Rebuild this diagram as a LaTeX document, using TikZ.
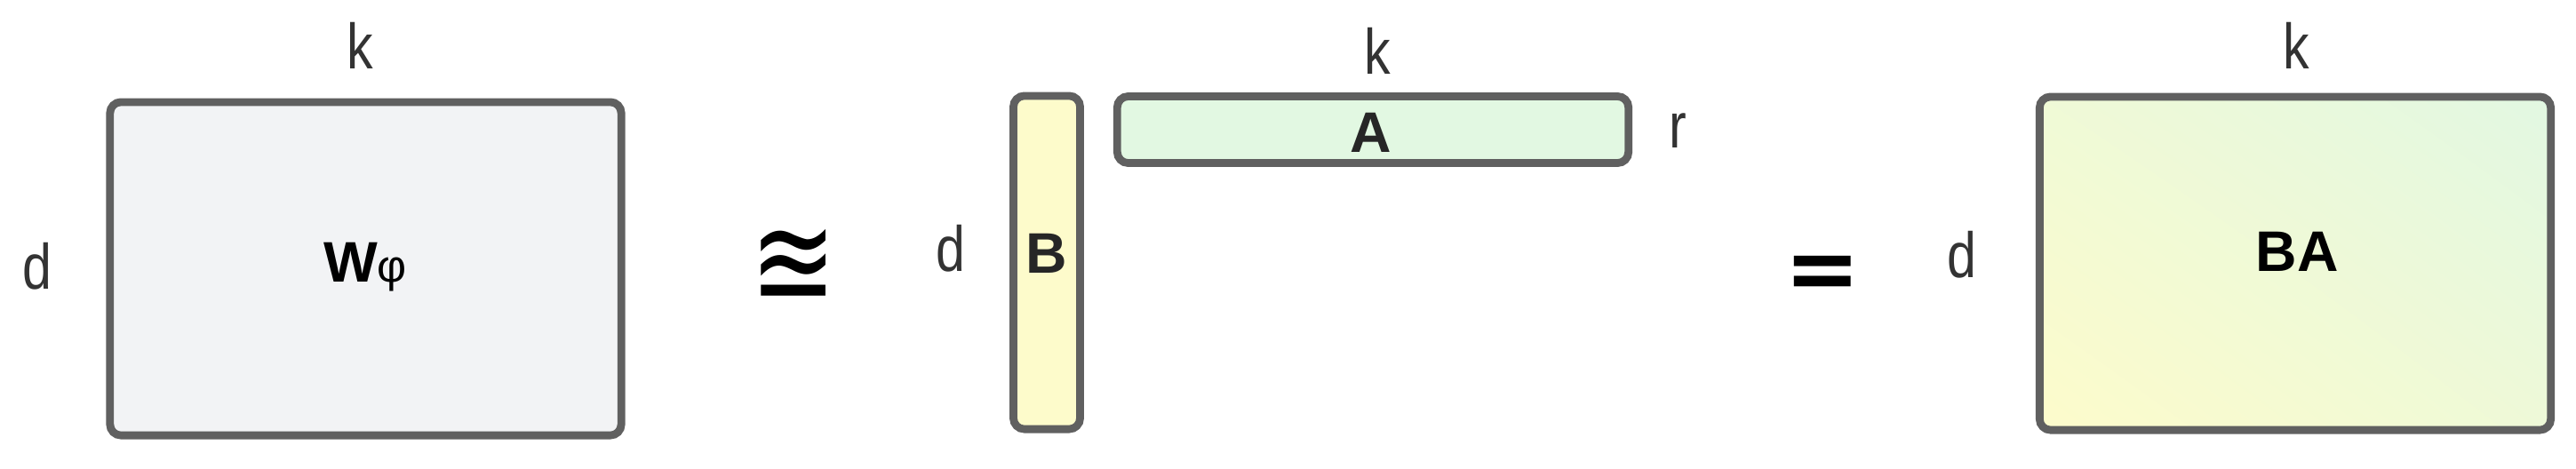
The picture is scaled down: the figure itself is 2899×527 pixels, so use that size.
\documentclass[tikz,border=0pt]{standalone}
\usepackage{graphicx}
\usepackage{fontspec}
\setmainfont{Liberation Sans}
\newfontfamily\dimfont{Liberation Sans}[FakeStretch=0.82]
\newfontfamily\opfont{DejaVu Sans}
\usepackage{tikz}
\usetikzlibrary{shadings}
\definecolor{mxedge}{HTML}{606060}
\definecolor{mxgray}{HTML}{F2F3F5}
\definecolor{mxyellow}{HTML}{FDFBCB}
\definecolor{mxgreen}{HTML}{E2F8E2}
\definecolor{dimtext}{HTML}{333333}

\begin{document}
\begin{tikzpicture}[x=0.01cm, y=-0.01cm]
  % one unit is one pixel of the 2899 x 527 figure, y runs downwards.
  % \mtK/\mtD are the drawn sizes of a k-wide, d-tall matrix, \mtR the rank.
  \def\mtK{5.75cm} \def\mtD{3.75cm} \def\mtR{0.75cm}
  \tikzset{
    matbox/.style={draw=mxedge, line width=2.5pt, rounded corners=3.5pt,
      inner sep=0pt},
    dimlbl/.style={anchor=base, inner sep=0pt, text=dimtext,
      font=\dimfont\fontsize{20.5}{24}\selectfont},
    matlbl/.style={anchor=base, inner sep=0pt,
      font=\bfseries\fontsize{18.3}{22}\selectfont},
    opsym/.style={anchor=base, inner sep=0pt,
      font=\opfont\fontsize{33}{36}\selectfont}
  }
  \useasboundingbox (0,0) rectangle (2899,527);

  % the full weight matrix
  \node[matbox, fill=mxgray, minimum width=\mtK, minimum height=\mtD]
    (W) at (411.5,302.5) {};
  \node[matlbl] (Wtxt) at (411,317)
    {W{\mdseries\fontsize{14.5}{14}\selectfont φ}};
  \node[dimlbl] (Wk) at (405,77) {k};
  \node[dimlbl] (Wd) at (42,325) {d};

  \node[opsym] (approx) at (893,346) {\scalebox{1}[1.27]{≊}};

  % the low-rank factors
  \node[matbox, fill=mxyellow, minimum width=\mtR, minimum height=\mtD]
    (B) at (1178,295.5) {};
  \node[matlbl, text=black!85] (Btxt) at (1178,307) {B};
  \node[dimlbl] (Bd) at (1070,305) {d};

  \node[matbox, fill=mxgreen, minimum width=\mtK, minimum height=\mtR]
    (A) at (1545,146) {};
  \node[matlbl, text=black!85] (Atxt) at (1543,171) {A};
  \node[dimlbl] (Ak) at (1550,83) {k};
  \node[dimlbl] (Ar) at (1888,166) {r};

  \node[opsym, font=\opfont\bfseries\fontsize{29}{30}\selectfont]
    (equal) at (2051,337) {=};

  % their product
  \node[matbox, minimum width=\mtK, minimum height=\mtD,
    lower left=mxyellow, upper right=mxgreen,
    upper left=mxyellow!50!mxgreen, lower right=mxyellow!45!mxgreen]
    (BA) at (2583,296.5) {};
  \node[matlbl] (BAtxt) at (2585,305) {BA};
  \node[dimlbl] (BAk) at (2584,77) {k};
  \node[dimlbl] (BAd) at (2208,312) {d};
\end{tikzpicture}
\end{document}
